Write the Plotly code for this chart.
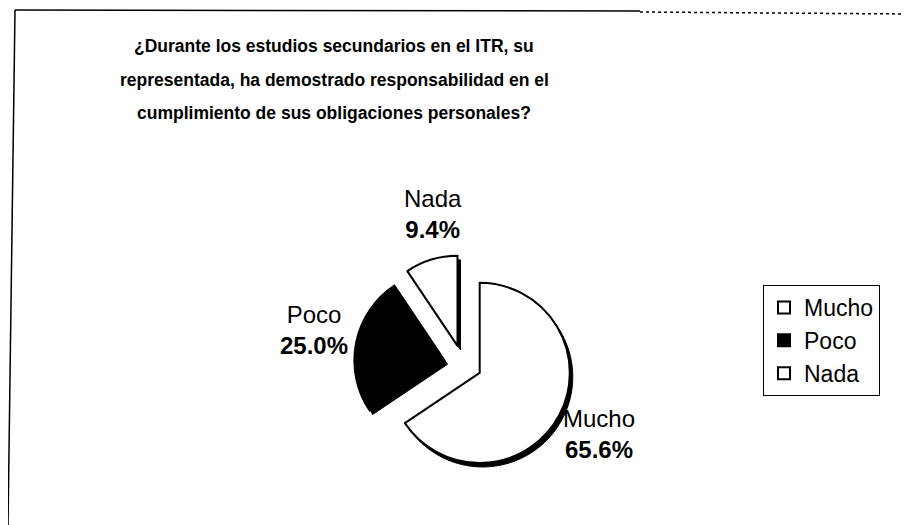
import plotly.graph_objects as go

categories = ["Mucho", "Poco", "Nada"]
values = [65.6, 25.0, 9.4]
slice_colors = ["white", "black", "white"]
title_lines = [
    "¿Durante los estudios secundarios en el ITR, su",
    "representada, ha demostrado responsabilidad en el",
    "cumplimiento de sus obligaciones personales?",
]
# label centres (page px), kept apart from the data
label_pos = {"Mucho": (599, 434), "Poco": (314, 330), "Nada": (433, 214)}

OFF = 8  # browser body margin
W, H = 909 - OFF, 525 - OFF

def px(x):
    return (x - OFF) / W

def py(y):
    return 1 - (y - OFF) / H

cx, cy, half = 463, 364, 109
pull = 0.21

def dom(cx, cy, half):
    return dict(x=[px(cx - half), px(cx + half)], y=[py(cy + half), py(cy - half)])

fig = go.Figure()
# shadow layer
fig.add_trace(go.Pie(
    labels=categories, values=values, sort=False, direction="clockwise", rotation=0,
    pull=pull, domain=dom(cx + 3, cy + 4, half),
    marker=dict(colors=["black"] * 3, line=dict(color="black", width=1)),
    textinfo="none", showlegend=False, hoverinfo="skip",
))
fig.add_trace(go.Pie(
    labels=categories, values=values, sort=False, direction="clockwise", rotation=0,
    pull=pull, domain=dom(cx, cy, half),
    marker=dict(colors=slice_colors, line=dict(color="black", width=2)),
    textinfo="none", showlegend=True,
))

total = sum(values)
for lab, val in zip(categories, values):
    x, y = label_pos[lab]
    fig.add_annotation(
        text=f"{lab}<br><b>{val / total * 100:.1f}%</b>", x=px(x), y=py(y),
        xref="paper", yref="paper", showarrow=False, xanchor="center", yanchor="middle",
        align="center",
        font=dict(family="Liberation Sans, Arial, sans-serif", size=24, color="black"),
    )

for i, line in enumerate(title_lines):
    fig.add_annotation(
        text=f"<b>{line}</b>", x=px(334), y=py(46 + 33.5 * i),
        xref="paper", yref="paper", showarrow=False, xanchor="center", yanchor="middle",
        font=dict(family="Liberation Sans, Arial, sans-serif", size=17.5, color="black"),
    )

# scanned page frame lines
frame = [((15, 10, 640, 11), "solid"), ((640, 12, 909, 14), "dot"), ((15, 10, 8, 525), "solid")]
for (x0, y0, x1, y1), dash in frame:
    fig.add_shape(type="line", xref="paper", yref="paper",
                  x0=px(x0), y0=py(y0), x1=px(x1), y1=py(y1),
                  line=dict(color="black", width=1.5, dash=dash))

fig.update_layout(
    width=W, height=H, margin=dict(l=0, r=0, t=0, b=0),
    paper_bgcolor="white", plot_bgcolor="white",
    legend=dict(x=px(763), y=py(285), xanchor="left", yanchor="top",
                bordercolor="black", borderwidth=1, bgcolor="white",
                font=dict(family="Liberation Sans, Arial, sans-serif", size=23, color="black"),
                itemsizing="constant"),
)

fig.write_html("out.html")
